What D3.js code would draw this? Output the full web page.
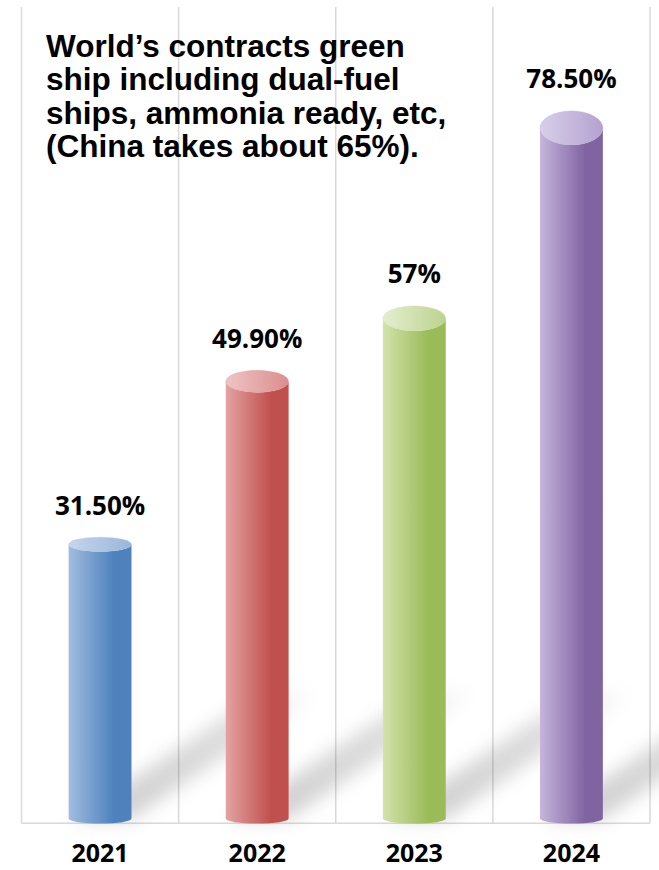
<!DOCTYPE html>
<html><head><meta charset="utf-8">
<script src="https://cdn.jsdelivr.net/npm/d3@7"></script>
<style>html,body{margin:0;padding:0;background:#fff;}svg{display:block;}</style>
</head><body>
<script>
const years = ["2021", "2022", "2023", "2024"];
const values = [31.5, 49.9, 57, 78.5];
const valueLabels = ["31.50%", "49.90%", "57%", "78.50%"];
const titleLines = ["World\u2019s contracts green", "ship including dual-fuel", "ships, ammonia ready, etc,", "(China takes about 65%)."];
const lightColors = ["#a0bde0", "#e3a3a3", "#d3e3ab", "#c4b6db"];
const darkColors = ["#4f81bd", "#c0504d", "#9bbb59", "#8064a2"];
const capLight = ["#c6d6ec", "#efc4c4", "#e4eed0", "#d8cfe9"];
const capDark = ["#9ab6da", "#db8e8d", "#bcd38f", "#b3a2cf"];

const W = 659, H = 870;
const svg = d3.select("body").append("svg").attr("width", W).attr("height", H);
const defs = svg.append("defs");

const x = d3.scaleBand().domain(years).range([21.5, 650]).paddingInner(0.6).paddingOuter(0.3);
const y = d3.scaleLinear().domain([0, 92]).range([823.6, 8.3]);
const gridTop = 7, base = 823.3;

const f = defs.append("filter").attr("id", "blur").attr("x", "-50%").attr("y", "-50%").attr("width", "200%").attr("height", "200%");
f.append("feGaussianBlur").attr("stdDeviation", 9);

const dx = 190, dy = -128;
years.forEach((yr, i) => {
  const g = defs.append("linearGradient").attr("id", "body" + i).attr("x1", 0).attr("x2", 1).attr("y1", 0).attr("y2", 0);
  g.append("stop").attr("offset", "0%").attr("stop-color", lightColors[i]);
  g.append("stop").attr("offset", "72%").attr("stop-color", darkColors[i]);
  g.append("stop").attr("offset", "100%").attr("stop-color", darkColors[i]);
  const c = defs.append("linearGradient").attr("id", "cap" + i).attr("x1", 0).attr("x2", 1).attr("y1", 0).attr("y2", 0);
  c.append("stop").attr("offset", "0%").attr("stop-color", capLight[i]);
  c.append("stop").attr("offset", "100%").attr("stop-color", capDark[i]);
  const s = defs.append("linearGradient").attr("id", "shadow" + i).attr("gradientUnits", "userSpaceOnUse")
    .attr("x1", x(yr) + x.bandwidth()).attr("y1", base).attr("x2", x(yr) + x.bandwidth() + dx).attr("y2", base + dy);
  s.append("stop").attr("offset", "0%").attr("stop-color", "#000").attr("stop-opacity", 0.18);
  s.append("stop").attr("offset", "60%").attr("stop-color", "#000").attr("stop-opacity", 0.13);
  s.append("stop").attr("offset", "100%").attr("stop-color", "#000").attr("stop-opacity", 0.0);
});

// vertical gridlines
const gridXs = [21.5, ...years.slice(1).map(d => x(d) - (x.step() - x.bandwidth()) / 2), 650];
svg.append("g").selectAll("line").data(gridXs).join("line")
  .attr("x1", d => d).attr("x2", d => d).attr("y1", gridTop).attr("y2", base)
  .attr("stroke", "#d9d9d9").attr("stroke-width", 1.5);
svg.append("line").attr("x1", 21.5).attr("x2", 650).attr("y1", base).attr("y2", base)
  .attr("stroke", "#d9d9d9").attr("stroke-width", 1.5);

// shadows
svg.append("g").selectAll("path").data(years).join("path")
  .attr("d", d => {
    const x0 = x(d) + 4, x1 = x(d) + x.bandwidth();
    return `M${x0},${base - 4} L${x1},${base - 4} L${x1 + dx},${base - 4 + dy} L${x0 + dx},${base - 4 + dy} Z`;
  })
  .attr("fill", (d, i) => `url(#shadow${i})`)
  .attr("filter", "url(#blur)");

// cylinders
const rx = x.bandwidth() / 2;
const ryBase = 5;
const capRy = h => 0.6 + 0.0236 * h;
const bars = svg.append("g").selectAll("g").data(years).join("g");
bars.append("path")
  .attr("d", (d, i) => {
    const x0 = x(d), x1 = x(d) + x.bandwidth();
    const yt = y(values[i]), yb = y(0) - ryBase;
    const rt = capRy(y(0) - yt);
    return `M${x0},${yt} L${x0},${yb} A${rx},${ryBase} 0 0 0 ${x1},${yb} L${x1},${yt} A${rx},${rt} 0 0 1 ${x0},${yt} Z`;
  })
  .attr("fill", (d, i) => `url(#body${i})`);
bars.append("ellipse")
  .attr("cx", d => x(d) + rx)
  .attr("cy", (d, i) => y(values[i]))
  .attr("rx", rx)
  .attr("ry", (d, i) => capRy(y(0) - y(values[i])))
  .attr("fill", (d, i) => `url(#cap${i})`)
  .attr("stroke", (d, i) => capDark[i]).attr("stroke-opacity", 0.35).attr("stroke-width", 0.8);

// value labels
svg.append("g").selectAll("text").data(years).join("text")
  .attr("x", d => x(d) + rx)
  .attr("y", (d, i) => y(values[i]) - capRy(y(0) - y(values[i])) - 22.5)
  .attr("text-anchor", "middle")
  .attr("font-family", "'Open Sans', 'Noto Sans', sans-serif")
  .attr("font-weight", 700).attr("font-size", 26).attr("fill", "#000")
  .text((d, i) => valueLabels[i]);

// x axis labels
svg.append("g").selectAll("text").data(years).join("text")
  .attr("x", d => x(d) + rx).attr("y", 862)
  .attr("text-anchor", "middle")
  .attr("font-family", "'Open Sans', 'Noto Sans', sans-serif")
  .attr("font-weight", 700).attr("font-size", 25).attr("fill", "#000")
  .text(d => d);

// title
svg.append("g").selectAll("text").data(titleLines).join("text")
  .attr("x", 46).attr("y", (d, i) => 57 + i * 33.4)
  .attr("font-family", "'Liberation Sans', Arial, sans-serif")
  .attr("font-weight", 700).attr("font-size", 31.5).attr("fill", "#000")
  .text(d => d);
</script>
</body></html>
